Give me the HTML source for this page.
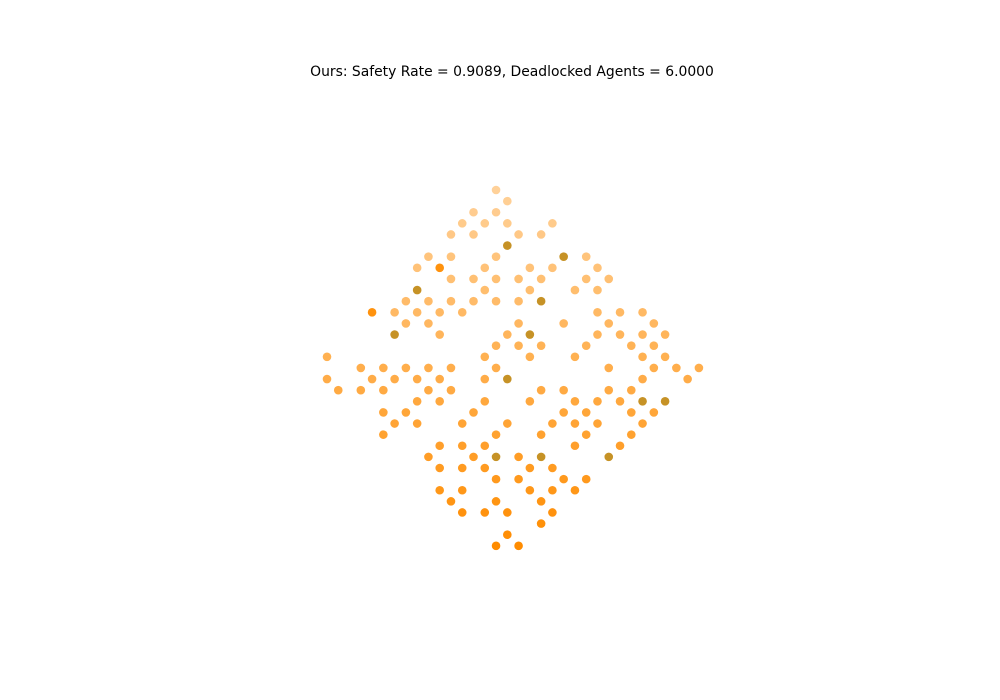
<!DOCTYPE html>
<html><head><meta charset="utf-8"><style>
html,body{margin:0;padding:0;background:#fff;width:1000px;height:700px;overflow:hidden}
svg{display:block}
</style></head><body>
<svg id="chart" width="1000" height="700" viewBox="0 0 1000 700">
<text x="512" y="76" text-anchor="middle" font-family="DejaVu Sans, Liberation Sans, sans-serif" font-size="13.9" fill="#000">Ours: Safety Rate = 0.9089, Deadlocked Agents = 6.0000</text>
<g id="points"></g>
</svg>
<script>
// grid column index of each agent, per row
const rowCols = [
 [15],[16],[13,15],[12,14,16,20],[11,13,17,19],[16],[9,11,15,21,23],[8,10,14,18,20,24],
 [11,13,15,17,19,23,25],[8,14,18,22,24],[7,9,11,13,15,17,19],[4,6,8,10,12,24,26,28],
 [7,9,17,21,25,29],[6,10,16,18,24,26,28,30],[15,17,19,23,27,29],[0,14,18,22,28,30],
 [3,5,7,9,11,15,25,29,31,33],[0,4,6,8,10,14,16,28,32],[1,3,5,9,11,19,21,25,27],
 [8,10,14,18,22,24,26,28,30],[5,7,13,21,23,27,29],[6,8,12,16,20,22,24,28],
 [5,15,19,23,27],[10,12,14,22,26],[9,13,15,17,19,25],[10,12,14,18,20],
 [15,17,21,23],[10,12,18,20,22],[11,15,19],[12,14,16,20],[19],[16],[15,17]
];
// deadlocked agents as "row:col"
const deadlocked = ["5:16","6:21","9:8","10:19","13:6","13:18","17:16","19:28","19:30","24:15","24:19","24:25"];
const solid = ["11:4","7:10"];
const x0 = 327, dx = 11.27, y0 = 190, dy = 11.12;
const xScale = c => x0 + dx * c;
const yScale = r => y0 + dy * r;
const g = document.getElementById('points');
const NS = 'http://www.w3.org/2000/svg';
rowCols.forEach((cols, r) => {
  cols.forEach(c => {
    const key = r + ':' + c;
    const el = document.createElementNS(NS, 'circle');
    el.setAttribute('cx', xScale(c));
    el.setAttribute('cy', yScale(r));
    el.setAttribute('r', 4.3);
    const dead = deadlocked.includes(key);
    let a = 0.4 + 0.6 * r / 32;
    if (solid.includes(key)) a = 0.95;
    el.setAttribute('fill', dead ? '#c0860e' : '#ff8c00');
    el.setAttribute('fill-opacity', dead ? 0.9 : Math.min(1, a));
    
    
    g.appendChild(el);
  });
});
</script>
</body></html>
